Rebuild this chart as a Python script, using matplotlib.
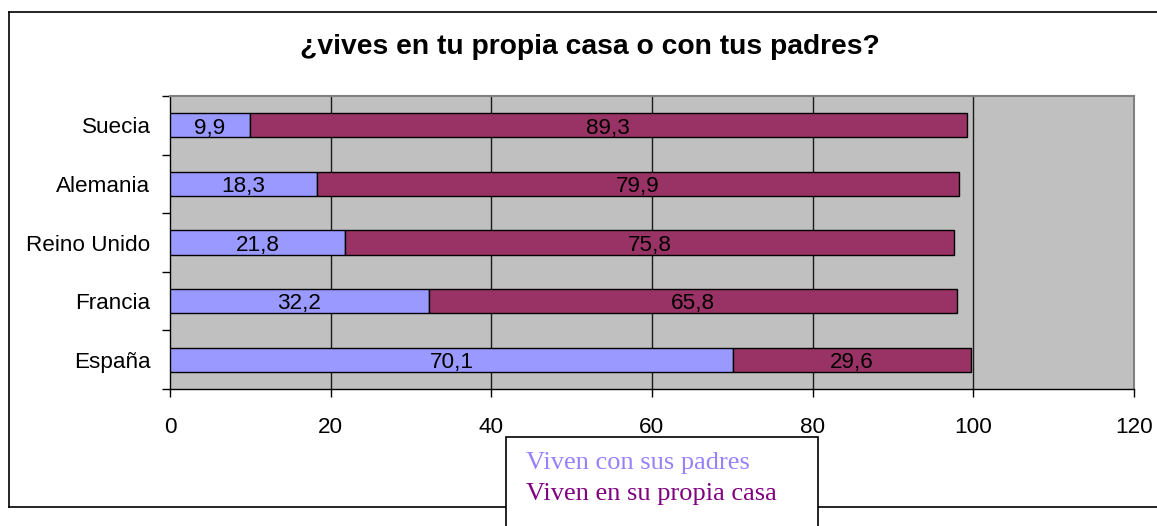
import matplotlib
matplotlib.use("Agg")
import matplotlib.pyplot as plt
from matplotlib.patches import Rectangle
from matplotlib.lines import Line2D

countries = ["Suecia", "Alemania", "Reino Unido", "Francia", "España"]
con_padres = [9.9, 18.3, 21.8, 32.2, 70.1]
propia_casa = [89.3, 79.9, 75.8, 65.8, 29.6]
series_names = ["Viven con sus padres", "Viven en su propia casa"]
title = "¿vives en tu propia casa o con tus padres?"
xticks = [0, 20, 40, 60, 80, 100, 120]

W, H = 1157, 526
fig = plt.figure(figsize=(W / 100, H / 100), dpi=100)
fig.patch.set_facecolor("white")

def fx(px):
    return px / W

def fy(py):
    return 1 - py / H

ax = fig.add_axes([fx(170), fy(389), fx(1134) - fx(170), fy(96) - fy(389)])
ax.set_facecolor("#C0C0C0")

font = "Liberation Sans"
fs = 16.2
pos = list(range(len(countries)))
bh = 0.41
c1, c2 = "#9999FF", "#993366"
ax.barh(pos, con_padres, height=bh, color=c1, edgecolor="black", linewidth=1.0, zorder=3)
ax.barh(pos, propia_casa, left=con_padres, height=bh, color=c2, edgecolor="black", linewidth=1.0, zorder=3)

for i in pos:
    a, b = con_padres[i], propia_casa[i]
    for xc, v in [(a / 2, a), (a + b / 2, b)]:
        ax.annotate(f"{v:.1f}".replace(".", ","), xy=(xc, i), xytext=(0, -2),
                    textcoords="offset points", ha="center", va="center",
                    fontsize=fs, family=font, color="black", zorder=4)

ax.set_xlim(0, 120)
ax.set_ylim(len(countries) - 0.5, -0.5)
ax.set_xticks(xticks)
ax.set_xticklabels([str(t) for t in xticks], fontsize=fs, family=font)
ax.set_yticks(pos)
ax.set_yticklabels(countries, fontsize=fs, family=font)
ax.set_yticks([p - 0.5 for p in pos] + [len(countries) - 0.5], minor=True)
ax.tick_params(axis="y", which="major", length=0, pad=14)
ax.tick_params(axis="y", which="minor", length=6, width=1, color="black")
ax.tick_params(axis="x", which="major", length=6, width=1, color="black", pad=14)

for t in xticks[1:-1]:
    ax.axvline(t, color="#1a1a1a", linewidth=1.0, zorder=1)

for s in ["left", "bottom"]:
    ax.spines[s].set_color("black")
    ax.spines[s].set_linewidth(1.0)
for s in ["top", "right"]:
    ax.spines[s].set_color("#808080")
    ax.spines[s].set_linewidth(1.5)

fig.text(fx(590), fy(47), title, ha="center", va="center", fontsize=20.3,
         fontweight="bold", family=font)

# outer chart frame
frame_x0, frame_y0, frame_y1 = fx(9), fy(507), fy(12)
fig.add_artist(Line2D([frame_x0, frame_x0], [frame_y0, frame_y1], color="black", lw=1.2,
                      transform=fig.transFigure))
fig.add_artist(Line2D([frame_x0, 1.01], [frame_y1, frame_y1], color="black", lw=1.2,
                      transform=fig.transFigure))
fig.add_artist(Line2D([frame_x0, 1.01], [frame_y0, frame_y0], color="black", lw=1.2,
                      transform=fig.transFigure))

# legend box
fig.add_artist(Rectangle((fx(506), fy(540)), fx(818) - fx(506), fy(437) - fy(540),
                         transform=fig.transFigure, facecolor="white", edgecolor="black",
                         linewidth=1.2, zorder=5))
handles = [Line2D([], [], linestyle="none", marker=None) for _ in series_names]
leg = fig.legend(handles, series_names, loc="upper left",
                 bbox_to_anchor=(fx(526), fy(451)), frameon=False,
                 handlelength=0, handletextpad=0, labelspacing=0.25,
                 borderpad=0, borderaxespad=0,
                 prop={"family": "Liberation Serif", "size": 19},
                 labelcolor=["#9980FF", "#800080"])
leg.set_zorder(6)

fig.savefig("out.png", dpi=100)
